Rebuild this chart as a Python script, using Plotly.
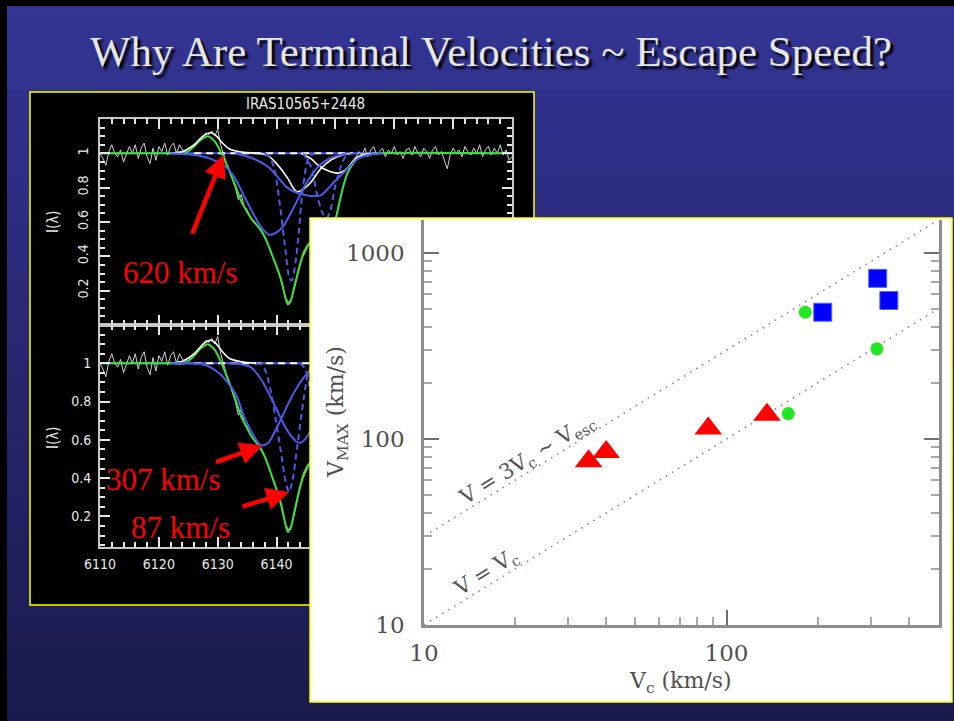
import plotly.graph_objects as go

W, H = 954, 721

# ---------------- IRAS10565+2448 spectrum (both panels) ----------------
obs_start, obs_step = 6110.0, 0.5
obs_flux = [
    1.00, 0.97, 0.93, 1.01, 1.05, 1.00, 0.98, 1.02, 0.95, 0.99,   # 6110.0-6114.5
    1.04, 1.00, 1.05, 0.97, 1.03, 1.06, 0.98, 0.94, 1.03, 0.96,   # 6115.0-6119.5
    1.04, 1.01, 1.06, 0.99, 1.04, 1.06, 1.00, 1.05, 1.02, 1.01,   # 6120.0-6124.5
    1.03, 1.02, 1.04, 1.06, 1.08, 1.10, 1.12, 1.11, 1.13, 1.10,   # 6125.0-6129.5
    1.14, 1.05, 0.99, 0.94, 0.90, 0.85, 0.80, 0.73, 0.76, 0.69,   # 6130.0-6134.5
    0.67, 0.63, 0.61, 0.59, 0.57, 0.54, 0.51, 0.47, 0.43, 0.38,   # 6135.0-6139.5
    0.34, 0.29, 0.23, 0.16, 0.13, 0.15, 0.21, 0.28, 0.35, 0.40,   # 6140.0-6144.5
    0.44, 0.47, 0.49, 0.50, 0.51, 0.49, 0.50, 0.52, 0.53, 0.57,   # 6145.0-6149.5
    0.62, 0.69, 0.76, 0.83, 0.88, 0.92, 0.95, 0.98, 1.01, 0.99,   # 6150.0-6154.5
    1.03, 0.98, 1.02, 1.04, 0.99, 1.01, 1.03, 0.98, 1.02, 1.00,   # 6155.0-6159.5
    1.04, 0.99, 1.01, 0.97, 1.02, 1.03, 0.99, 1.04, 1.00, 0.98,   # 6160.0-6164.5
    1.03, 1.01, 0.97, 1.02, 1.04, 0.99, 1.01, 0.96, 0.91, 0.99,   # 6165.0-6169.5
    1.03, 1.00, 1.02, 0.98, 1.04, 1.01, 0.99, 1.03, 1.00, 1.05,   # 6170.0-6174.5
    0.98, 1.02, 1.04, 0.99, 1.03, 1.00, 1.05, 0.99, 1.02, 0.96,   # 6175.0-6179.5
    0.98,                                                         # 6180.0
]
obs_wave = [obs_start + obs_step * i for i in range(len(obs_flux))]

# total model fit (green)
fit_wave = [6110, 6122, 6124.4, 6126, 6127, 6128.3, 6129.5, 6130.5, 6131.7, 6133,
            6134, 6135, 6135.7, 6137.4, 6138.3, 6139.1, 6140, 6140.8, 6141.5, 6141.9,
            6142.4, 6143, 6143.8, 6144.7, 6145.7, 6146.7, 6147.7, 6148.6, 6149.4, 6150,
            6150.6, 6151.2, 6152, 6153, 6154, 6155.5, 6157, 6180]
fit_flux = [1.0, 1.0, 1.0, 1.04, 1.075, 1.10, 1.07, 1.01, 0.92, 0.81,
            0.72, 0.66, 0.62, 0.55, 0.49, 0.42, 0.34, 0.26, 0.16, 0.12,
            0.14, 0.22, 0.33, 0.43, 0.48, 0.50, 0.50, 0.51, 0.55, 0.61,
            0.70, 0.79, 0.88, 0.94, 0.975, 0.99, 1.0, 1.0]

# continuum level
cont_wave = [6110, 6180]
cont_flux = [1.0, 1.0]
cont_dash_wave = [6126, 6153]
cont_dash_flux = [1.0, 1.0]

# emission component (white)
em_wave = [6122, 6124, 6126, 6127.5, 6128.8, 6129.8, 6130.8, 6132, 6134, 6137]
em_flux = [1.0, 1.01, 1.05, 1.10, 1.12, 1.10, 1.06, 1.025, 1.008, 1.0]

# --- upper panel components ---
w1_wave = [6137, 6138.6, 6140, 6141.8, 6142.8, 6143.5, 6144.5, 6145.8, 6147.5, 6149.2, 6150.9, 6153]
w1_flux = [1.0, 0.985, 0.94, 0.86, 0.80, 0.776, 0.79, 0.83, 0.91, 0.96, 0.988, 1.0]
w2_wave = [6144.1, 6146, 6146.9, 6148, 6149.2, 6150.3, 6151.2, 6152, 6153, 6153.7, 6155, 6157]
w2_flux = [1.0, 0.965, 0.935, 0.91, 0.893, 0.885, 0.893, 0.913, 0.955, 0.978, 0.995, 1.0]

b1_wave = [6122, 6126, 6128.8, 6131.4, 6133.1, 6134.8, 6136.5, 6137.6, 6138.8, 6140,
           6141, 6142.7, 6144.1, 6145.5, 6147, 6149, 6152]
b1_flux = [1.0, 0.99, 0.968, 0.92, 0.845, 0.73, 0.62, 0.56, 0.525, 0.54,
           0.57, 0.67, 0.766, 0.85, 0.92, 0.97, 1.0]
b2_wave = [6133, 6136, 6138.6, 6140.5, 6141.8, 6143.8, 6145.8, 6147.5, 6149.8, 6151.5, 6153.8, 6156.1, 6158]
b2_flux = [1.0, 0.97, 0.92, 0.85, 0.80, 0.766, 0.752, 0.755, 0.834, 0.891, 0.969, 0.995, 1.0]

d1_wave = [6138, 6139, 6139.8, 6140.6, 6141.5, 6142.2, 6142.6, 6143.2, 6143.8, 6144.3, 6144.9, 6145.5, 6146.5]
d1_flux = [1.0, 0.97, 0.88, 0.69, 0.44, 0.27, 0.26, 0.36, 0.55, 0.75, 0.90, 0.98, 1.0]
d2_wave = [6144.5, 6144.9, 6146.0, 6146.8, 6147.7, 6148.4, 6149.1, 6149.9, 6150.8, 6151.7, 6153]
d2_flux = [1.0, 0.98, 0.91, 0.77, 0.66, 0.62, 0.66, 0.80, 0.91, 0.98, 1.0]

# --- lower panel components ---
b3_wave = [6122, 6124.2, 6127, 6128.7, 6130.4, 6132.1, 6133.3, 6134.4, 6135.8, 6137,
           6137.6, 6138.7, 6139.8, 6140.9, 6142.1, 6143.5, 6144.9, 6145.8, 6148, 6150]
b3_flux = [1.0, 1.0, 0.997, 0.98, 0.944, 0.883, 0.823, 0.727, 0.64, 0.579,
           0.570, 0.588, 0.649, 0.718, 0.797, 0.875, 0.936, 0.962, 0.99, 1.0]
b4_wave = [6132, 6133.9, 6135.6, 6137.3, 6139, 6140.1, 6141.2, 6142.4, 6143.5, 6144.1,
           6144.9, 6145.8, 6147, 6148, 6150, 6152, 6154]
b4_flux = [1.0, 0.995, 0.98, 0.919, 0.823, 0.753, 0.683, 0.623, 0.588, 0.585,
           0.605, 0.649, 0.72, 0.80, 0.93, 0.99, 1.0]
d3_wave = [6136.5, 6137.3, 6138.1, 6139, 6139.8, 6140.7, 6141.5, 6142.1, 6142.7, 6143.5,
           6144.4, 6145.2, 6145.8, 6147]
d3_flux = [1.0, 0.995, 0.962, 0.857, 0.718, 0.544, 0.387, 0.327, 0.387, 0.562,
           0.77, 0.927, 0.979, 1.0]
d4_wave = [6144, 6144.9, 6145.7, 6146.5, 6147.3, 6148, 6148.7, 6149.5, 6150.3, 6151.1, 6152]
d4_flux = [1.0, 0.97, 0.857, 0.70, 0.58, 0.55, 0.58, 0.70, 0.86, 0.97, 1.0]

# outflow speeds marked on the spectrum
v_edge_label, v_edge_wave, v_edge_flux = "620 km/s", 6131.0, 0.99

# ---------------- terminal velocity vs circular velocity ----------------
tri_vc = [35, 40, 87, 136]
tri_vmax = [76, 85, 114, 135]
circ_vc = [160, 182, 314]
circ_vmax = [137, 480, 305]
sq_vc = [208, 316, 344]
sq_vmax = [480, 730, 555]

line_vc = [10, 500]
line_v1 = [v for v in line_vc]          # V = Vc
line_v3 = [3 * v for v in line_vc]      # V = 3Vc ~ Vesc

log_major = [10, 100, 1000]
log_major_text = ["10", "100", "1000"]
log_minor = [20, 30, 40, 50, 60, 70, 80, 90, 200, 300, 400, 500, 600, 700, 800, 900]

spec_y_ticks = [0.2, 0.4, 0.6, 0.8, 1.0]
spec_y_text = ["0.2", "0.4", "0.6", "0.8", "1"]


def px(x):
    return x / W


def py(y):
    return 1 - y / H


GREEN = "#3ce23c"
BLUE = "#4b5bea"
WHITE = "#ffffff"
DATA = "#d2d2d2"
NARROW = "Liberation Sans Narrow, DejaVu Sans Condensed, sans-serif"
SERIF = "Liberation Serif, Times New Roman, serif"
WIDE_SERIF = "DejaVu Serif, serif"

fig = go.Figure()


def add_line(x, y, color, width, xa, ya, dash="solid", smooth=True):
    fig.add_trace(go.Scatter(
        x=x, y=y, mode="lines", xaxis=xa, yaxis=ya,
        line=dict(color=color, width=width, dash=dash,
                  shape="spline" if smooth else "linear", smoothing=0.7),
        hoverinfo="skip", showlegend=False))


# upper spectrum panel
add_line(cont_wave, cont_flux, BLUE, 2, "x", "y")
add_line(obs_wave, obs_flux, DATA, 1, "x", "y", smooth=False)
add_line(cont_dash_wave, cont_dash_flux, WHITE, 2, "x", "y", dash="7px,5px")
add_line(fit_wave, fit_flux, GREEN, 2, "x", "y")
add_line(em_wave, em_flux, WHITE, 1.6, "x", "y")
add_line(w1_wave, w1_flux, WHITE, 1.6, "x", "y")
add_line(w2_wave, w2_flux, WHITE, 1.6, "x", "y")
add_line(b1_wave, b1_flux, BLUE, 2, "x", "y")
add_line(b2_wave, b2_flux, BLUE, 2, "x", "y")
add_line(d1_wave, d1_flux, BLUE, 2, "x", "y", dash="6px,4px")
add_line(d2_wave, d2_flux, BLUE, 2, "x", "y", dash="6px,4px")

# lower spectrum panel
add_line(cont_wave, cont_flux, BLUE, 2, "x2", "y2")
add_line(obs_wave, obs_flux, DATA, 1, "x2", "y2", smooth=False)
add_line(cont_dash_wave, cont_dash_flux, WHITE, 2, "x2", "y2", dash="7px,5px")
add_line(fit_wave, fit_flux, GREEN, 2, "x2", "y2")
add_line(em_wave, em_flux, WHITE, 1.6, "x2", "y2")
add_line(b3_wave, b3_flux, BLUE, 2, "x2", "y2")
add_line(b4_wave, b4_flux, BLUE, 2, "x2", "y2")
add_line(d3_wave, d3_flux, BLUE, 2, "x2", "y2", dash="6px,4px")
add_line(d4_wave, d4_flux, BLUE, 2, "x2", "y2", dash="6px,4px")

# pixel-unit canvas that carries the white inset panel
fig.add_trace(go.Scatter(x=[400], y=[400], xaxis="x3", yaxis="y3", mode="markers",
                         marker=dict(opacity=0), hoverinfo="skip", showlegend=False))

# velocity diagram
dot_style = dict(color="#8c8c8c", width=1.6, dash="1.6px,5.5px")
fig.add_trace(go.Scatter(x=line_vc, y=line_v3, mode="lines", xaxis="x4", yaxis="y4",
                         line=dot_style, hoverinfo="skip", showlegend=False))
fig.add_trace(go.Scatter(x=line_vc, y=line_v1, mode="lines", xaxis="x4", yaxis="y4",
                         line=dot_style, hoverinfo="skip", showlegend=False))
fig.add_trace(go.Scatter(x=tri_vc, y=tri_vmax, mode="markers", xaxis="x4", yaxis="y4",
                         marker=dict(symbol="triangle-up", size=24, color="#ff0000",
                                     line=dict(width=0)),
                         hoverinfo="skip", showlegend=False))
fig.add_trace(go.Scatter(x=circ_vc, y=circ_vmax, mode="markers", xaxis="x4", yaxis="y4",
                         marker=dict(symbol="circle", size=13, color="#22e822",
                                     line=dict(width=0)),
                         hoverinfo="skip", showlegend=False))
fig.add_trace(go.Scatter(x=sq_vc, y=sq_vmax, mode="markers", xaxis="x4", yaxis="y4",
                         marker=dict(symbol="square", size=18, color="#0000ff",
                                     line=dict(width=1, color="#5566ff")),
                         hoverinfo="skip", showlegend=False))

# ---------------- background and panels ----------------
shapes = []
top_rgb, bot_rgb = (52, 52, 150), (26, 26, 76)
n_bands = 48
for i in range(n_bands):
    t = (i + 0.5) / n_bands
    c = tuple(round(a + (b - a) * t) for a, b in zip(top_rgb, bot_rgb))
    shapes.append(dict(type="rect", xref="paper", yref="paper", layer="below",
                       x0=0, x1=1, y0=1 - (i + 1.05) / n_bands, y1=1 - i / n_bands,
                       fillcolor="rgb(%d,%d,%d)" % c, line=dict(width=0)))
shapes.append(dict(type="rect", xref="paper", yref="paper", layer="below",
                   x0=0, x1=1, y0=py(6), y1=1, fillcolor="#000000", line=dict(width=0)))
shapes.append(dict(type="rect", xref="paper", yref="paper", layer="below",
                   x0=0, x1=px(7), y0=0, y1=1, fillcolor="#000000", line=dict(width=0)))
shapes.append(dict(type="rect", xref="paper", yref="paper", layer="below",
                   x0=px(30), x1=px(534), y0=py(605), y1=py(92),
                   fillcolor="#000000", line=dict(color="#ffff00", width=1.5)))
shapes.append(dict(type="rect", xref="x3", yref="y3", layer="below",
                   x0=310, x1=952, y0=218, y1=702,
                   fillcolor="#ffffff", line=dict(color="#ffff00", width=1.5)))

# ---------------- axes ----------------
spec_common = dict(showline=True, linecolor="#c8c8c8", linewidth=2, mirror="ticks",
                   ticks="inside", tickcolor="#e6e6e6", tickwidth=1.5, ticklen=10,
                   showgrid=False, zeroline=False, automargin=False,
                   tickfont=dict(family=NARROW, size=14, color="#e8e8e8"))
spec_xminor = dict(tick0=6110, dtick=2, ticks="inside", ticklen=5,
                   tickcolor="#e6e6e6", tickwidth=1.5)
spec_yminor = dict(tick0=0, dtick=0.05, ticks="inside", ticklen=5,
                   tickcolor="#e6e6e6", tickwidth=1.5)

log_common = dict(type="log", showline=True, linecolor="#8e8e8e", linewidth=2.5,
                  ticks="inside", ticklen=15, tickwidth=2, tickcolor="#707070",
                  showgrid=False, zeroline=False, automargin=False,
                  tickmode="array", tickvals=log_major, ticktext=log_major_text,
                  minor=dict(tickvals=log_minor, ticks="inside", ticklen=8,
                             tickwidth=2, tickcolor="#a8a8a8"),
                  tickfont=dict(family=WIDE_SERIF, size=23, color="#505050"))

fig.update_layout(
    width=W, height=H, margin=dict(l=0, r=0, t=0, b=0, pad=0, autoexpand=False),
    paper_bgcolor="#2a2a80", plot_bgcolor="rgba(0,0,0,0)",
    hovermode=False, showlegend=False,
    shapes=shapes,
    xaxis=dict(**spec_common, domain=[px(100), px(512)], range=[6110, 6180],
               anchor="y", tick0=6110, dtick=10, showticklabels=False, minor=spec_xminor),
    yaxis=dict(**spec_common, domain=[py(325), py(119)], range=[0, 1.2], anchor="x",
               tickmode="array", tickvals=spec_y_ticks, ticktext=spec_y_text,
               tickangle=-90, minor=spec_yminor, ticklabelstandoff=4),
    xaxis2=dict(**spec_common, domain=[px(100), px(512)], range=[6110, 6180],
                anchor="y2", tick0=6110, dtick=10, minor=spec_xminor,
                ticklabelstandoff=3),
    yaxis2=dict(**spec_common, domain=[py(547), py(325)], range=[0.04, 1.2], anchor="x2",
                tickmode="array", tickvals=spec_y_ticks, ticktext=spec_y_text,
                minor=spec_yminor, ticklabelstandoff=4),
    xaxis3=dict(visible=False, automargin=False, domain=[px(308), 1], range=[308, 954],
                anchor="y3"),
    yaxis3=dict(visible=False, automargin=False, domain=[py(704), py(216)],
                range=[704, 216], anchor="x3"),
    xaxis4=dict(**log_common, domain=[px(424), px(938.6)], range=[1, 2.701],
                anchor="y4", ticklabelstandoff=6),
    yaxis4=dict(**log_common, domain=[py(625), py(220)], range=[1, 3.177],
                anchor="x4", mirror="ticks", ticklabelstandoff=12),
)

# ---------------- text ----------------
ann = []


def label(x, y, text, font, angle=0):
    ann.append(dict(xref="paper", yref="paper", x=px(x), y=py(y), showarrow=False,
                    xanchor="center", yanchor="middle", text=text, textangle=angle,
                    font=font))


label(491, 52, "Why Are Terminal Velocities ~ Escape Speed?",
      dict(family=SERIF, size=43, color="#e6e6e6", shadow="3px 3px 2px #000000"))
label(305, 104, "IRAS10565+2448", dict(family=NARROW, size=15, color="#e8e8e8"))
for yc in (222, 438):
    label(53, yc, "I(λ)", dict(family=NARROW, size=15, color="#e8e8e8"), -90)

red_font = dict(family=SERIF, size=31, color="#ff0000")
label(180, 272, v_edge_label, red_font)
label(163, 479, "307 km/s", red_font)
label(180, 527, "87 km/s", red_font)

arrow = dict(showarrow=True, text="", arrowhead=2, arrowsize=1, arrowwidth=4.5,
             arrowcolor="#ff0000", standoff=0)
ann.append(dict(**arrow, xref="x", yref="y", x=v_edge_wave, y=v_edge_flux, ax=-32, ay=80))
ann.append(dict(**arrow, xref="x2", yref="y2", x=b3_wave[10], y=b3_flux[10], ax=-48, ay=17))
ann.append(dict(**arrow, xref="x2", yref="y2", x=d3_wave[7], y=d3_flux[7], ax=-48, ay=15))

lab_font = dict(family=WIDE_SERIF, size=22, color="#505050")
label(337, 412, "V<sub>MAX</sub> (km/s)", lab_font, -90)
label(680, 682, "V<sub>c</sub> (km/s)", lab_font)
line_font = dict(family=WIDE_SERIF, size=21, color="#555555")
label(527, 460, "V = 3V<sub>c</sub> ~ V<sub>esc</sub>", line_font, -31.6)
label(486, 573, "V = V<sub>c</sub>", line_font, -31.6)

fig.update_layout(annotations=ann)

fig.write_html("out.html")
